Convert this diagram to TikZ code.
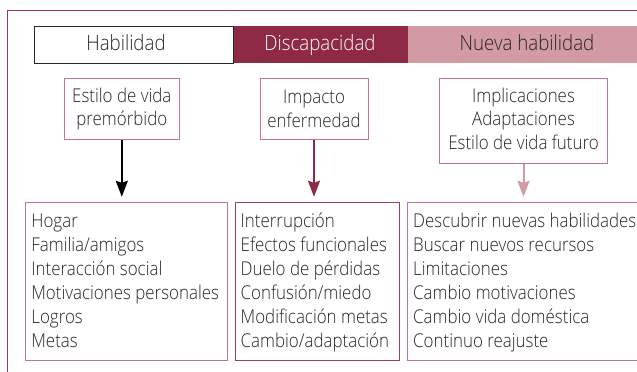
\documentclass[tikz,border=0pt]{standalone}
\usepackage{fontspec}
\setmainfont{Open Sans}[UprightFont={* Light}, FakeStretch=0.89]
\usetikzlibrary{arrows.meta}
\definecolor{frame}{HTML}{A8304C}
\definecolor{dcrim}{HTML}{8E2A45}
\definecolor{lpink}{HTML}{D29AA2}
\definecolor{bord}{HTML}{C27888}
\definecolor{bordd}{HTML}{A23C58}
\definecolor{txt}{HTML}{262626}
\tikzset{
  hdrbox/.style={minimum height=37pt, inner sep=0pt},
  hdrtxt/.style={inner sep=0pt, anchor=base, font=\fontsize{21}{24}\selectfont, text=txt},
  topbox/.style={draw=bord, line width=1pt, inner sep=0pt, align=center, text=txt, font=\fontsize{19}{23.5}\selectfont},
  listbox/.style={draw=bord, line width=1pt, inner sep=0pt, anchor=north west},
  listtxt/.style={anchor=north west, inner sep=0pt, align=left, text=txt, font=\fontsize{19}{24}\selectfont},
  arr/.style={line width=2pt, -{Stealth[width=12pt,length=16pt,inset=2pt]}}
}
\begin{document}
\begin{tikzpicture}[x=1pt,y=-1pt]
\clip (0,0) rectangle (637,372);
\fill[white] (0,0) rectangle (637,372);
\draw[frame, line width=1pt] (7.3,380) -- (7.3,10.7) -- (645,10.7);
% header
\node[hdrbox, fill=white, draw=txt, line width=1pt, minimum width=199pt] (hab) at (134,44.7) {};
\node[hdrbox, fill=dcrim, minimum width=174pt] (dis) at (321,44.7) {};
\node[hdrbox, fill=lpink, minimum width=238pt] (nue) at (527,44.7) {};
\node[hdrtxt] (habt) at (126,50.5) {Habilidad};
\node[hdrtxt, text=white] (dist) at (320,50.5) {Discapacidad};
\node[hdrtxt] (nuet) at (527,50.5) {Nueva habilidad};
% top boxes
\node[topbox, minimum width=115pt, minimum height=61.5pt] (t1) at (121.8,109) {Estilo de vida\\premórbido};
\node[topbox, minimum width=108pt, minimum height=61.5pt] (t2) at (314,109) {Impacto\\enfermedad};
\node[topbox, minimum width=167.5pt, minimum height=85.5pt] (t3) at (523.5,121) {Implicaciones\\Adaptaciones\\Estilo de vida futuro\vphantom{j}\raisebox{3pt}{\vphantom{j}}};
% bottom boxes
\node[listbox, minimum width=201.7pt, minimum height=157.7pt] (b1) at (25,202.3) {};
\node[listbox, draw=bordd, minimum width=164.3pt, minimum height=157.7pt] (b2) at (235,202.3) {};
\node[listbox, minimum width=240pt, minimum height=157.7pt] (b3) at (407,202.3) {};
\node[listtxt] (l1) at (31.2,210.9) {\strut Hogar\\Familia/amigos\\Interacción social\\Motivaciones personales\\Logros\\Metas};
\node[listtxt] (l2) at (240.5,210.9) {\strut Interrupción\\Efectos funcionales\\Duelo de pérdidas\\Confusión/miedo\\Modificación metas\\Cambio/adaptación};
\node[listtxt] (l3) at (413,210.9) {\strut Descubrir nuevas habilidades\\Buscar nuevos recursos\\Limitaciones\\Cambio motivaciones\\Cambio vida doméstica\\Continuo reajuste};
% arrows
\draw[arr, black] (t1.south) -- ([yshift=5.5pt]b1.north -| t1.south);
\draw[arr, dcrim] (t2.south) -- ([yshift=5.5pt]b2.north -| t2.south);
\draw[arr, lpink] (t3.south) -- ([yshift=5.5pt]b3.north -| t3.south);
\end{tikzpicture}
\end{document}
